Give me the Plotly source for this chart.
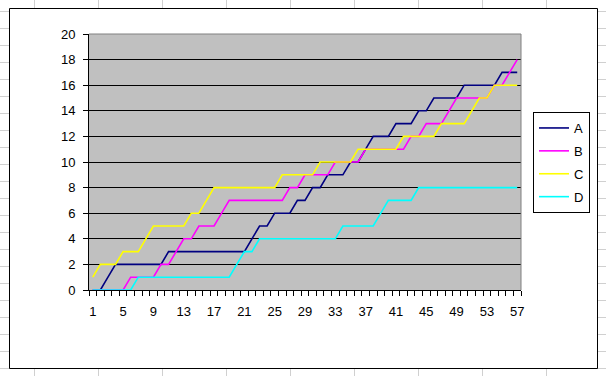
import plotly.graph_objects as go

# ---- data ----
x_vals = list(range(1, 58))
x_tick_vals = [1, 5, 9, 13, 17, 21, 25, 29, 33, 37, 41, 45, 49, 53, 57]
x_tick_text = [str(v) for v in x_tick_vals]
y_tick_vals = list(range(0, 21, 2))

series_names = ["A", "B", "C", "D"]
a_vals = [0, 0, 1, 2, 2, 2, 2, 2, 2, 2,
          3, 3, 3, 3, 3, 3, 3, 3, 3, 3,
          3, 4, 5, 5, 6, 6, 6, 7, 7, 8,
          8, 9, 9, 9, 10, 10, 11, 12, 12, 12,
          13, 13, 13, 14, 14, 15, 15, 15, 15, 16,
          16, 16, 16, 16, 17, 17, 17]
b_vals = [0, 0, 0, 0, 0, 1, 1, 1, 1, 2,
          2, 3, 4, 4, 5, 5, 5, 6, 7, 7,
          7, 7, 7, 7, 7, 7, 8, 8, 9, 9,
          9, 9, 10, 10, 10, 10, 11, 11, 11, 11,
          11, 11, 12, 12, 13, 13, 13, 14, 15, 15,
          15, 15, 15, 16, 16, 17, 18]
c_vals = [1, 2, 2, 2, 3, 3, 3, 4, 5, 5,
          5, 5, 5, 6, 6, 7, 8, 8, 8, 8,
          8, 8, 8, 8, 8, 9, 9, 9, 9, 9,
          10, 10, 10, 10, 10, 11, 11, 11, 11, 11,
          11, 12, 12, 12, 12, 12, 13, 13, 13, 13,
          14, 15, 15, 16, 16, 16, 16]
d_vals = [0, 0, 0, 0, 0, 0, 1, 1, 1, 1,
          1, 1, 1, 1, 1, 1, 1, 1, 1, 2,
          3, 3, 4, 4, 4, 4, 4, 4, 4, 4,
          4, 4, 4, 5, 5, 5, 5, 5, 6, 7,
          7, 7, 7, 8, 8, 8, 8, 8, 8, 8,
          8, 8, 8, 8, 8, 8, 8]
series_colors = ["#000080", "#FF00FF", "#FFFF00", "#00FFFF"]

# ---- geometry (pixels) ----
W, H = 606, 376
L, R, T, B = 89, 521, 34, 290
PW, PH = R - L, B - T


def px(x):
    return (x - L) / PW


def py(y):
    return (B - y) / PH


fig = go.Figure()
for name, vals, color in zip(series_names, [a_vals, b_vals, c_vals, d_vals], series_colors):
    fig.add_trace(go.Scatter(x=x_vals, y=vals, name=name, mode="lines",
                             legendgroup=name,
                             line=dict(color=color, width=1.6)))

shapes = []
grid_col = "#D0D0D0"
for cx in [34, 98, 162, 226, 290, 354, 418, 482, 546]:
    shapes.append(dict(type="line", xref="paper", yref="paper", layer="below",
                       x0=px(cx + 0.5), x1=px(cx + 0.5), y0=py(0), y1=py(H),
                       line=dict(color=grid_col, width=1)))
for k in range(0, 23):
    ry = 11 + 17 * k
    shapes.append(dict(type="line", xref="paper", yref="paper", layer="below",
                       x0=px(0), x1=px(W), y0=py(ry + 0.5), y1=py(ry + 0.5),
                       line=dict(color=grid_col, width=1)))
# chart area
shapes.append(dict(type="rect", xref="paper", yref="paper", layer="below",
                   x0=px(9.5), x1=px(597.5), y0=py(8.5), y1=py(368.5),
                   fillcolor="white", line=dict(color="black", width=1)))
# plot area
shapes.append(dict(type="rect", xref="paper", yref="paper", layer="below",
                   x0=0, x1=1, y0=0, y1=1,
                   fillcolor="#C0C0C0", line=dict(width=0)))
# gray plot border top & right
shapes.append(dict(type="line", xref="paper", yref="paper", layer="above",
                   x0=0, x1=1, y0=1, y1=1, line=dict(color="#808080", width=1)))
shapes.append(dict(type="line", xref="paper", yref="paper", layer="above",
                   x0=1, x1=1, y0=0, y1=1, line=dict(color="#808080", width=1)))

fig.update_layout(
    width=W, height=H, autosize=False,
    margin=dict(l=L, r=W - R, t=T, b=H - B, pad=0),
    paper_bgcolor="white", plot_bgcolor="#C0C0C0",
    font=dict(family="Liberation Sans, Arial, sans-serif", size=13, color="black"),
    showlegend=True,
    legend=dict(x=px(533), y=py(112), xanchor="left", yanchor="top",
                bgcolor="white", bordercolor="black", borderwidth=1,
                traceorder="grouped", tracegroupgap=3, itemwidth=30,
                font=dict(size=13, color="black")),
    shapes=shapes,
    xaxis=dict(range=[0.5, 57.5], tickmode="array", tickvals=x_tick_vals, ticktext=x_tick_text,
               ticks="outside", ticklen=5, tickcolor="rgba(0,0,0,0)",
               showgrid=False, zeroline=False, showline=True, linecolor="black", linewidth=1,
               layer="above traces", ticklabelstandoff=4,
               minor=dict(tickmode="array", tickvals=[i + 0.5 for i in range(0, 58)],
                          ticks="outside", ticklen=5, tickcolor="black", showgrid=False)),
    yaxis=dict(range=[0, 20], tickmode="array", tickvals=y_tick_vals,
               ticks="outside", ticklen=5, tickcolor="black",
               showgrid=True, gridcolor="black", gridwidth=1,
               zeroline=False, showline=True, linecolor="black", linewidth=1,
               layer="above traces", ticklabelstandoff=5),
)

fig.write_html("out.html", config={"displayModeBar": False},
               post_script="document.body.style.margin='0';document.body.style.padding='0';")
